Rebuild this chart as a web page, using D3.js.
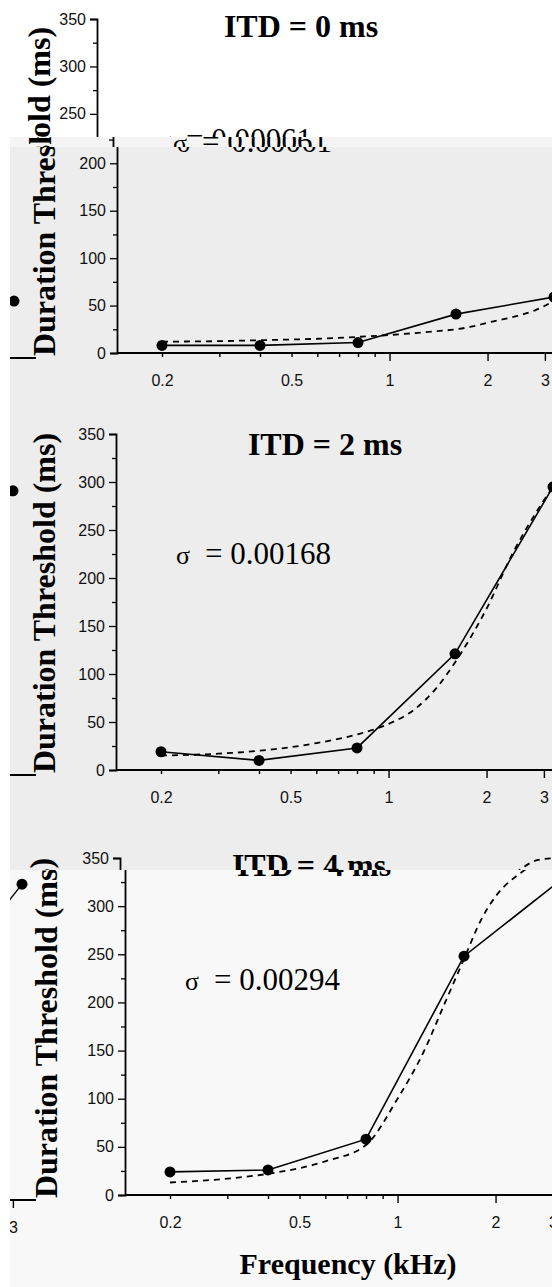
<!DOCTYPE html>
<html>
<head>
<meta charset="utf-8">
<script src="https://cdn.jsdelivr.net/npm/d3@7"></script>
<style>
  html, body { margin: 0; padding: 0; background: #fff; }
  svg { display: block; }
</style>
</head>
<body>
<div id="chart"></div>
<script>
// measured thresholds, frequency in kHz
const freqs = [0.2, 0.4, 0.8, 1.6, 3.2];
const itd0 = [8, 8, 11, 41, 59];
const itd2 = [19, 10, 23, 121, 295];
const itd4 = [24, 26, 58, 248, 328];

// model fit (dashed)
const fitFreqs = [0.2, 0.3, 0.4, 0.6, 0.8, 1.0, 1.2, 1.4, 1.6, 1.8, 2.0, 2.4, 2.8, 3.2];
const fit0 = [12, 12.5, 13.5, 15, 17, 19, 21, 23, 25, 28, 32, 38, 45, 55];
const fit2 = [15, 17, 20, 28, 37, 48, 63, 85, 112, 140, 168, 225, 265, 295];
const fit4 = [13, 17, 22, 35, 52, 100, 148, 200, 245, 285, 310, 335, 348, 350];

const titles = ['ITD = 0 ms', 'ITD = 2 ms', 'ITD = 4 ms'];
const sigmas = ['0.00061', '0.00168', '0.00294'];

const yTicks = d3.range(0, 351, 25);
const xTicks = [0.2, 0.3, 0.4, 0.5, 0.6, 0.7, 0.8, 0.9, 1, 2, 3, 4];
const xLabels = [0.2, 0.5, 1, 2, 3];
const xMajor = [1, 2, 3, 4];

// tail of the neighbouring panel that peeks in on the left edge
const tailFreqs = [1.6, 3.2];
const tails = [[40, 60], [150, 296], [200, 328]];

const W = 552, H = 1287;
const SERIF = '"Liberation Serif", "Times New Roman", serif';
const SANS = '"Liberation Sans", Arial, sans-serif';

const panels = [
  {ax: 117, y0: 353, y350: 21, tx: 321, ty: 39, sy: 152, lx: 55, solid: itd0, fit: fit0},
  {ax: 116, y0: 770, y350: 434, tx: 325, ty: 455, sy: 564, lx: 55, solid: itd2, fit: fit2},
  {ax: 125, y0: 1195, y350: 858, tx: 314, ty: 876, sy: 990, lx: 57, solid: itd4, fit: fit4, xTitle: 1274}
];

// pieces of the pasted-together figure: [x, y, w, h] clip + offset
const pieces = [
  {panel: 0, dx: -20, dy: -2, clip: [0, 0, W, 137], fill: '#ffffff', labelShift: [15, 13]},
  {panel: 0, dx: -4, dy: 0, clip: [10, 137, W, 10], fill: '#f4f4f4'},
  {panel: 0, dx: 0, dy: 0, clip: [10, 147, W, 263], fill: '#ededed'},
  {panel: 1, dx: 0, dy: 0, clip: [10, 410, W, 410], fill: '#ededed'},
  {panel: 2, dx: -5, dy: 0, clip: [10, 820, W, 50], fill: '#ededed'},
  {panel: 2, dx: 0, dy: 0, clip: [10, 870, W, H - 870], fill: '#f8f8f8'}
];
const neighbours = [
  {panel: 0, clip: [10, 147, 26, 263]},
  {panel: 1, clip: [10, 410, 26, 410]},
  {panel: 2, clip: [10, 870, 26, H - 870]}
];

const svg = d3.select('#chart').append('svg')
  .attr('width', W)
  .attr('height', H);
svg.append('rect').attr('width', W).attr('height', H).attr('fill', '#fff');
const defs = svg.append('defs');

function scales(p) {
  const x = d3.scaleLog().domain([0.2, 3.2]).range([p.ax + 45, p.ax + 45 + 4 * 98]);
  const y = d3.scaleLinear().domain([0, 350]).range([p.y0, p.y350]);
  return {x, y};
}

function clipped(id, c) {
  defs.append('clipPath').attr('id', id)
    .append('rect').attr('x', c[0]).attr('y', c[1]).attr('width', c[2]).attr('height', c[3]);
  return svg.append('g').attr('clip-path', `url(#${id})`);
}

function drawXAxis(f, p, x) {
  f.append('line')
    .attr('x1', p.ax).attr('x2', p.ax + 460)
    .attr('y1', p.y0).attr('y2', p.y0)
    .attr('stroke', '#000').attr('stroke-width', 1.8);
  const xa = f.append('g')
    .attr('transform', `translate(0,${p.y0})`)
    .call(d3.axisBottom(x).tickValues(xTicks).tickSize(4)
      .tickFormat(d => xLabels.includes(d) ? String(d) : ''));
  xa.select('.domain').remove();
  xa.selectAll('.tick line')
    .attr('y2', d => xMajor.includes(d) ? 8 : 4)
    .attr('stroke-width', 1.4);
  xa.selectAll('.tick text')
    .attr('y', 22)
    .style('font-family', SANS).style('font-size', '16px').attr('fill', '#111');
}

function drawPanel(piece, i) {
  const p = panels[piece.panel];
  const {x, y} = scales(p);
  const g = clipped('piece' + i, piece.clip);
  g.append('rect')
    .attr('x', piece.clip[0]).attr('y', piece.clip[1])
    .attr('width', piece.clip[2]).attr('height', piece.clip[3])
    .attr('fill', piece.fill);
  const f = g.append('g').attr('transform', `translate(${piece.dx},${piece.dy})`);

  // y axis
  const ya = f.append('g')
    .attr('transform', `translate(${p.ax},0)`)
    .call(d3.axisLeft(y).tickValues(yTicks).tickSizeOuter(0).tickSize(7).tickPadding(4)
      .tickFormat(d => d % 50 === 0 ? String(d) : ''));
  ya.select('.domain').attr('stroke-width', 1.8);
  ya.selectAll('.tick line')
    .attr('x2', d => d % 50 === 0 ? -7 : -4)
    .attr('stroke-width', 1.3);
  ya.selectAll('.tick text')
    .style('font-family', SANS).style('font-size', '16px').attr('fill', '#111');

  drawXAxis(f, p, x);

  // fit and data
  const line = d3.line().x(d => x(d[0])).y(d => y(d[1]));
  f.append('path')
    .datum(d3.zip(fitFreqs, p.fit))
    .attr('d', line.curve(d3.curveMonotoneX))
    .attr('fill', 'none').attr('stroke', '#000')
    .attr('stroke-width', 1.8).attr('stroke-dasharray', '6,5');
  f.append('path')
    .datum(d3.zip(freqs, p.solid))
    .attr('d', d3.line().x(d => x(d[0])).y(d => y(d[1])))
    .attr('fill', 'none').attr('stroke', '#000').attr('stroke-width', 1.6);
  f.selectAll('circle.pt')
    .data(d3.zip(freqs, p.solid))
    .join('circle').attr('class', 'pt')
    .attr('cx', d => x(d[0])).attr('cy', d => y(d[1]))
    .attr('r', 5.5).attr('fill', '#000');

  // texts
  f.append('text')
    .attr('x', p.tx).attr('y', p.ty)
    .attr('text-anchor', 'middle')
    .style('font-family', SERIF).style('font-weight', 'bold').style('font-size', '32px')
    .text(titles[piece.panel]);
  f.append('text')
    .attr('x', p.ax + 67).attr('y', p.sy)
    .attr('text-anchor', 'middle')
    .style('font-family', SERIF).style('font-size', '26px')
    .text('σ');
  f.append('text')
    .attr('x', p.ax + 89).attr('y', p.sy)
    .style('font-family', SERIF).style('font-size', '31px')
    .text('= ' + sigmas[piece.panel]);

  const ls = piece.labelShift || [0, 0];
  f.append('text')
    .attr('transform', `translate(${p.lx + ls[0]},${p.y0 - 167 + ls[1]}) rotate(-90)`)
    .attr('text-anchor', 'middle')
    .style('font-family', SERIF).style('font-weight', 'bold').style('font-size', '32px')
    .text('Duration Threshold (ms)');

  if (p.xTitle) {
    f.append('text')
      .attr('x', 348).attr('y', p.xTitle)
      .attr('text-anchor', 'middle')
      .style('font-family', SERIF).style('font-weight', 'bold').style('font-size', '30px')
      .text('Frequency (kHz)');
  }
}

function drawNeighbour(nb, i) {
  const p = panels[nb.panel];
  const {x, y} = scales(p);
  const g = clipped('nb' + i, nb.clip);
  const f = g.append('g').attr('transform', 'translate(-540,5)');
  drawXAxis(f, p, x);
  const pts = d3.zip(tailFreqs, tails[nb.panel]);
  f.append('path')
    .datum(pts)
    .attr('d', d3.line().x(d => x(d[0])).y(d => y(d[1])))
    .attr('fill', 'none').attr('stroke', '#000').attr('stroke-width', 1.4);
  f.selectAll('circle')
    .data(pts.slice(1))
    .join('circle')
    .attr('cx', d => x(d[0])).attr('cy', d => y(d[1]))
    .attr('r', 5.5).attr('fill', '#000');
}

pieces.forEach(drawPanel);
neighbours.forEach(drawNeighbour);
</script>
</body>
</html>
